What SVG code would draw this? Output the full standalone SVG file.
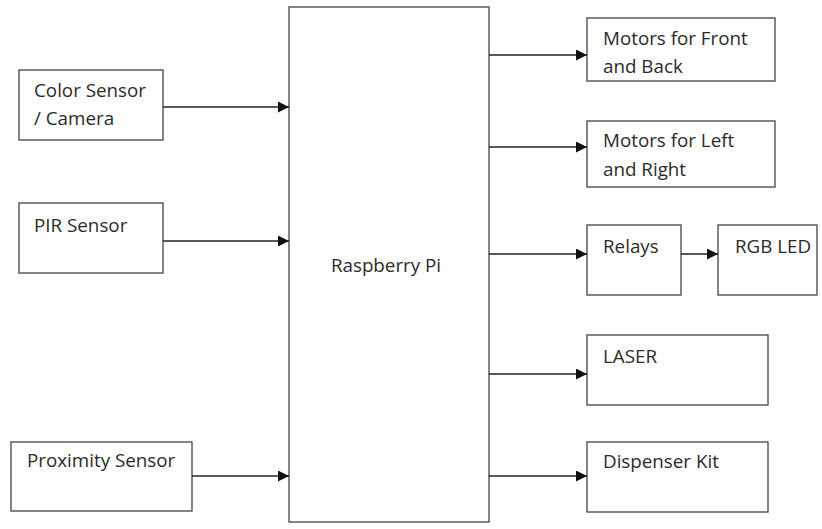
<svg xmlns="http://www.w3.org/2000/svg" width="822" height="529" viewBox="0 0 822 529">
<defs>
<marker id="ah" markerWidth="11" markerHeight="11" refX="11" refY="5.5" orient="auto" markerUnits="userSpaceOnUse">
<path d="M0,0 L11,5.5 L0,11 Z" fill="#111"/>
</marker>
<style>
.box{fill:#fff;stroke:#444;stroke-width:1.3}
.t{font-family:"Open Sans","Liberation Sans",sans-serif;font-size:18.8px;fill:#2b2b2b}
.c{stroke:#222;stroke-width:1.5;fill:none;marker-end:url(#ah)}
</style>
</defs>
<rect width="822" height="529" fill="#fff"/>
<g id="color-sensor"><rect class="box" x="19" y="70" width="144" height="70"/><text class="t" x="34" y="97">Color Sensor</text><text class="t" x="34" y="125">/ Camera</text></g>
<g id="pir-sensor"><rect class="box" x="19" y="203" width="144" height="70"/><text class="t" x="34" y="232">PIR Sensor</text></g>
<g id="proximity-sensor"><rect class="box" x="11" y="442" width="181" height="69"/><text class="t" x="27" y="467">Proximity Sensor</text></g>
<g id="raspberry-pi"><rect class="box" x="289" y="7" width="200" height="515"/><text class="t" x="386" y="272" text-anchor="middle">Raspberry Pi</text></g>
<g id="motors-front-back"><rect class="box" x="587" y="18" width="188" height="63"/><text class="t" x="603" y="45">Motors for Front</text><text class="t" x="603" y="73">and Back</text></g>
<g id="motors-left-right"><rect class="box" x="587" y="121" width="188" height="66"/><text class="t" x="603" y="147">Motors for Left</text><text class="t" x="603" y="176">and Right</text></g>
<g id="relays"><rect class="box" x="587" y="225" width="94" height="70"/><text class="t" x="603" y="253">Relays</text></g>
<g id="rgb-led"><rect class="box" x="718" y="225" width="99" height="70"/><text class="t" x="735" y="253">RGB LED</text></g>
<g id="laser"><rect class="box" x="587" y="335" width="181" height="70"/><text class="t" x="603" y="363">LASER</text></g>
<g id="dispenser-kit"><rect class="box" x="587" y="442" width="181" height="70"/><text class="t" x="603" y="468">Dispenser Kit</text></g>
<g id="connectors">
<line class="c" x1="163" y1="107" x2="289" y2="107"/>
<line class="c" x1="163" y1="241" x2="289" y2="241"/>
<line class="c" x1="192" y1="476" x2="289" y2="476"/>
<line class="c" x1="489" y1="55" x2="587" y2="55"/>
<line class="c" x1="489" y1="147" x2="587" y2="147"/>
<line class="c" x1="489" y1="254" x2="587" y2="254"/>
<line class="c" x1="681" y1="254" x2="718" y2="254"/>
<line class="c" x1="489" y1="374" x2="587" y2="374"/>
<line class="c" x1="489" y1="476" x2="587" y2="476"/>
</g>
</svg>
